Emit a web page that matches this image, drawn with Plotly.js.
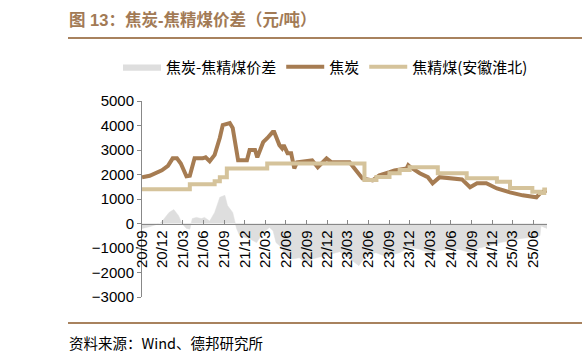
<!DOCTYPE html>
<html>
<head>
<meta charset="utf-8">
<script src="https://cdn.plot.ly/plotly-3.0.1.min.js"></script>
<style>html,body{margin:0;padding:0;background:#fff;}#chart{width:582px;height:363px;}</style>
</head>
<body>
<div id="chart"></div>
<script>
// ---- data ----
var seriesNames = ["焦炭-焦精煤价差", "焦炭", "焦精煤(安徽淮北)"];

var cokeDates = ["2020-09-01","2020-10-05","2020-11-28","2020-12-25","2021-01-15","2021-02-03","2021-02-20","2021-03-17","2021-04-01","2021-04-22","2021-05-28","2021-06-10","2021-06-28","2021-07-20","2021-08-12","2021-08-25","2021-09-25","2021-10-08","2021-11-01","2021-12-10","2021-12-22","2022-01-15","2022-01-25","2022-02-20","2022-03-10","2022-04-03","2022-04-10","2022-04-18","2022-05-03","2022-05-15","2022-05-22","2022-06-08","2022-06-24","2022-07-08","2022-07-20","2022-09-25","2022-10-20","2022-11-28","2022-12-20","2023-03-10","2023-04-10","2023-05-06","2023-06-20","2023-07-20","2023-09-03","2023-09-25","2023-11-18","2023-11-25","2023-12-05","2024-01-15","2024-02-20","2024-03-12","2024-04-12","2024-06-10","2024-07-20","2024-08-25","2024-09-25","2024-11-05","2024-12-22","2025-02-18","2025-04-15","2025-06-15","2025-07-05","2025-08-01"];
var cokeValues = [1885,1950,2170,2350,2660,2660,2450,1925,1950,2660,2660,2700,2540,2800,3500,4016,4100,3900,2580,2580,3000,3000,2700,3320,3480,3730,3730,3520,3200,3070,3200,2870,2870,2250,2500,2580,2300,2660,2500,2500,2170,1840,1760,1970,2100,2170,2250,2380,2300,2050,1890,1640,1890,1840,1800,1480,1640,1640,1430,1270,1150,1070,1270,1350];

var coalDates = ["2020-09-01","2021-04-01","2021-07-20","2021-08-12","2021-09-12","2022-03-10","2023-05-15","2023-07-07","2023-09-03","2023-10-18","2023-12-01","2024-04-04","2024-08-10","2024-12-22","2025-02-18","2025-05-28","2025-07-01","2025-07-20","2025-08-01"];
var coalValues = [1400,1600,1720,1890,2250,2450,1780,1900,2050,2180,2300,2050,1850,1700,1450,1300,1250,1390,1390];

var spreadDates = ["2020-09-01","2020-10-05","2020-11-18","2020-11-30","2020-12-30","2021-01-20","2021-02-10","2021-02-25","2021-03-17","2021-04-01","2021-04-12","2021-04-30","2021-05-22","2021-06-05","2021-06-28","2021-07-20","2021-08-12","2021-09-03","2021-09-15","2021-10-08","2021-10-25","2021-11-08","2021-12-22","2022-01-22","2022-02-20","2022-03-20","2022-04-05","2022-04-18","2022-05-03","2022-06-01","2022-06-28","2022-07-30","2022-08-30","2022-09-25","2022-11-28","2023-01-25","2023-03-10","2023-04-20","2023-05-22","2023-07-05","2023-08-18","2023-10-18","2023-12-01","2024-01-15","2024-02-25","2024-04-12","2024-05-25","2024-07-05","2024-08-25","2024-10-05","2024-11-20","2025-01-05","2025-02-18","2025-04-01","2025-05-15","2025-07-01","2025-07-05","2025-08-01"];
var spreadValues = [-200,-130,0,100,450,570,320,0,-200,-230,200,250,200,250,100,450,1070,1150,730,450,-200,-500,-620,-780,-370,-160,-300,-780,-900,-1300,-1450,-1400,-1600,-1450,-1300,-1150,-1430,-1720,-1300,-1190,-1350,-1190,-980,-1050,-1190,-1100,-1050,-1050,-1190,-1000,-900,-780,-700,-620,-570,-500,-100,-200];

var tickDates = ["2020-09-01","2020-12-01","2021-03-01","2021-06-01","2021-09-01","2021-12-01","2022-03-01","2022-06-01","2022-09-01","2022-12-01","2023-03-01","2023-06-01","2023-09-01","2023-12-01","2024-03-01","2024-06-01","2024-09-01","2024-12-01","2025-03-01","2025-06-01"];
var tickLabels = ["20/09","20/12","21/03","21/06","21/09","21/12","22/03","22/06","22/09","22/12","23/03","23/06","23/09","23/12","24/03","24/06","24/09","24/12","25/03","25/06"];

var titleText = "图 13：焦炭-焦精煤价差（元/吨）";
var sourceText = "资料来源：Wind、德邦研究所";

// ---- chart ----
var CJK = "Liberation Sans, Noto Sans CJK SC, sans-serif";
var traces = [
  {x: spreadDates, y: spreadValues, name: seriesNames[0], type: "scatter", mode: "lines",
   fill: "tozeroy", fillcolor: "#dedede", line: {color: "#dedede", width: 0.5}},
  {x: cokeDates, y: cokeValues, name: seriesNames[1], type: "scatter", mode: "lines",
   line: {color: "#a67c52", width: 4}},
  {x: coalDates, y: coalValues, name: seriesNames[2], type: "scatter", mode: "lines",
   line: {color: "#d5c39b", width: 4, shape: "hv"}}
];

var L = 142, R = 547, T = 101, B = 297;
function px(x){ return (x - L) / (R - L); }
function py(y){ return (B - y) / (B - T); }

var layout = {
  width: 582, height: 363,
  margin: {l: L, r: 582 - R, t: T, b: 363 - B, pad: 0},
  paper_bgcolor: "#fff", plot_bgcolor: "#fff",
  font: {family: CJK, color: "#000", size: 13},
  showlegend: true,
  legend: {orientation: "h", x: px(118), y: py(67), xanchor: "left", yanchor: "middle",
           font: {size: 15, family: "Noto Sans CJK SC, sans-serif", color: "#000"},
           bgcolor: "rgba(0,0,0,0)", traceorder: "normal", itemwidth: 38},
  xaxis: {type: "date", range: ["2020-09-01", "2025-08-01"], anchor: "free", position: 0.375,
          tickmode: "array", tickvals: tickDates, ticktext: tickLabels, tickangle: -90,
          ticks: "inside", ticklen: 4, tickcolor: "#888", showline: true, linecolor: "#888", linewidth: 1,
          showgrid: false, zeroline: false, tickfont: {size: 15, family: "Liberation Sans, sans-serif", color: "#000"}},
  yaxis: {range: [-3000, 5000], dtick: 1000, tick0: 0, ticks: "outside", ticklen: 4, tickcolor: "#888",
          showline: true, linecolor: "#888", linewidth: 1, showgrid: false, zeroline: false,
          tickfont: {size: 15, family: "Liberation Sans, sans-serif", color: "#000"}},
  shapes: [
    {type: "line", xref: "paper", yref: "paper", x0: px(68), x1: px(582), y0: py(38), y1: py(38),
     line: {color: "#a8825e", width: 2}},
    {type: "line", xref: "paper", yref: "paper", x0: px(68), x1: px(582), y0: py(323), y1: py(323),
     line: {color: "#a8825e", width: 2}}
  ],
  annotations: [
    {text: "<b>" + titleText + "</b>", xref: "paper", yref: "paper", x: px(67), y: py(19),
     xanchor: "left", yanchor: "middle", showarrow: false,
     font: {size: 16.5, color: "#a27a55", family: CJK}},
    {text: sourceText, xref: "paper", yref: "paper", x: px(67), y: py(342),
     xanchor: "left", yanchor: "middle", showarrow: false,
     font: {size: 14.5, color: "#000", family: "Noto Sans CJK SC, sans-serif"}}
  ]
};

Plotly.newPlot("chart", traces, layout, {staticPlot: true, displayModeBar: false});
</script>
</body>
</html>
